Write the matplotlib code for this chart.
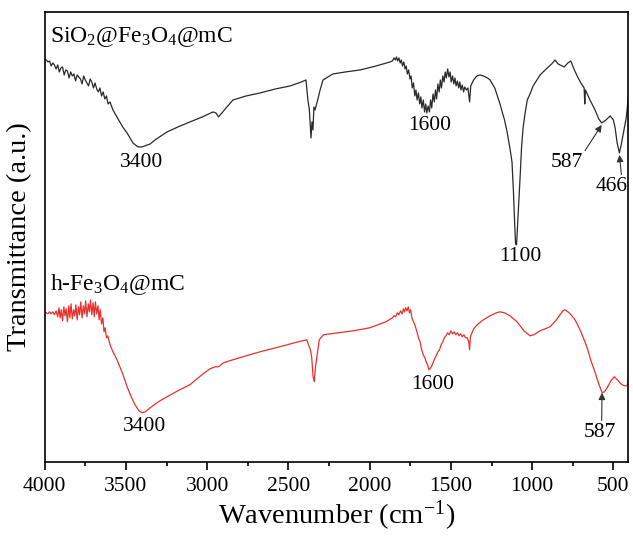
import numpy as np
import matplotlib
matplotlib.use("Agg")
import matplotlib.pyplot as plt

plt.rcParams['font.family'] = ['Liberation Serif', 'DejaVu Serif']
plt.rcParams['mathtext.fontset'] = 'custom'
plt.rcParams['mathtext.rm'] = 'Liberation Serif'
plt.rcParams['mathtext.it'] = 'Liberation Serif:italic'

# SiO2@Fe3O4@mC spectrum (arbitrary units)
black_wn = [4000, 3990, 3980, 3970, 3960, 3950, 3940, 3930, 3920, 3910, 3900, 3890, 3880, 3870,
            3860, 3850, 3840, 3830, 3820, 3810, 3800, 3790, 3780, 3770, 3760, 3750, 3740, 3730,
            3720, 3710, 3700, 3690, 3680, 3670, 3660, 3650, 3640, 3630, 3620, 3610, 3598, 3580,
            3555, 3520, 3493, 3457, 3426, 3400, 3383, 3350, 3321, 3247, 3180, 3106, 3030, 2964,
            2946, 2930, 2920, 2909, 2884, 2841, 2760, 2675, 2580, 2490, 2420, 2392, 2380, 2371,
            2361, 2355, 2349, 2343, 2336, 2320, 2305, 2287, 2226, 2150, 2059, 1960, 1875, 1860,
            1850, 1842, 1835, 1828, 1820, 1812, 1805, 1798, 1790, 1782, 1775, 1768, 1760, 1752,
            1745, 1738, 1730, 1722, 1715, 1708, 1700, 1692, 1685, 1678, 1670, 1662, 1655, 1648,
            1640, 1632, 1625, 1618, 1610, 1602, 1595, 1588, 1580, 1572, 1565, 1558, 1550, 1542,
            1535, 1528, 1520, 1512, 1505, 1498, 1490, 1482, 1475, 1468, 1460, 1452, 1445, 1438,
            1430, 1422, 1415, 1405, 1395, 1385, 1378, 1360, 1340, 1321, 1300, 1275, 1259, 1230,
            1198, 1170, 1154, 1135, 1124, 1115, 1108, 1102, 1096, 1090, 1082, 1074, 1065, 1055,
            1044, 1030, 1013, 994, 951, 920, 880, 859, 840, 803, 780, 762, 740, 720, 700, 680,
            676, 672, 644, 613, 590, 572, 545, 520, 500, 489, 477, 463, 452, 438, 421, 408]
black_t = [4.03, 4.02, 4.00, 4.01, 3.96, 3.99, 3.97, 3.93, 3.97, 3.90, 3.94, 3.95, 3.87, 3.92,
           3.91, 3.84, 3.90, 3.86, 3.88, 3.81, 3.87, 3.85, 3.83, 3.78, 3.86, 3.82, 3.79, 3.76,
           3.83, 3.80, 3.74, 3.79, 3.73, 3.70, 3.74, 3.66, 3.70, 3.63, 3.66, 3.58, 3.60, 3.52,
           3.45, 3.35, 3.29, 3.19, 3.15, 3.15, 3.16, 3.18, 3.22, 3.30, 3.35, 3.40, 3.45, 3.50,
           3.49, 3.45, 3.47, 3.49, 3.54, 3.62, 3.66, 3.69, 3.73, 3.76, 3.80, 3.82, 3.62, 3.52,
           3.24, 3.40, 3.32, 3.55, 3.52, 3.62, 3.72, 3.82, 3.88, 3.90, 3.92, 3.96, 4.00, 4.01,
           4.04, 4.02, 4.05, 4.01, 4.04, 3.99, 4.02, 3.96, 4.00, 3.93, 3.96, 3.88, 3.92, 3.83,
           3.86, 3.74, 3.79, 3.66, 3.72, 3.62, 3.69, 3.58, 3.65, 3.54, 3.62, 3.50, 3.58, 3.49,
           3.56, 3.50, 3.62, 3.54, 3.68, 3.60, 3.72, 3.63, 3.78, 3.70, 3.82, 3.74, 3.86, 3.80,
           3.90, 3.84, 3.93, 3.85, 3.90, 3.80, 3.86, 3.78, 3.84, 3.76, 3.81, 3.74, 3.80, 3.72,
           3.77, 3.70, 3.75, 3.72, 3.74, 3.60, 3.76, 3.82, 3.86, 3.87, 3.86, 3.84, 3.82, 3.74,
           3.58, 3.42, 3.30, 3.12, 3.00, 2.70, 2.40, 2.18, 2.17, 2.35, 2.60, 2.85, 3.15, 3.35,
           3.48, 3.62, 3.68, 3.76, 3.87, 3.92, 3.98, 4.02, 3.98, 3.95, 3.99, 4.01, 3.92, 3.85, 3.79, 3.74,
           3.58, 3.72, 3.62, 3.52, 3.43, 3.39, 3.42, 3.46, 3.42, 3.34, 3.19, 3.09, 3.17, 3.29, 3.44, 3.64]

# h-Fe3O4@mC spectrum
red_wn = [4000, 3990, 3980, 3970, 3960, 3950, 3940, 3930, 3920, 3912, 3905, 3898, 3890, 3882,
          3875, 3868, 3860, 3852, 3845, 3838, 3830, 3822, 3815, 3808, 3800, 3792, 3785, 3778,
          3770, 3762, 3755, 3748, 3740, 3732, 3725, 3718, 3710, 3702, 3695, 3688, 3680, 3672,
          3665, 3658, 3650, 3642, 3635, 3628, 3620, 3612, 3598, 3580, 3555, 3520, 3493, 3465,
          3444, 3420, 3401, 3380, 3350, 3300, 3247, 3180, 3106, 3040, 2983, 2950, 2933, 2921,
          2900, 2841, 2760, 2675, 2530, 2440, 2387, 2365, 2357, 2348, 2341, 2333, 2325, 2310,
          2285, 2195, 2100, 2000, 1900, 1860, 1850, 1840, 1830, 1820, 1810, 1800, 1792, 1785,
          1778, 1770, 1762, 1755, 1748, 1740, 1730, 1720, 1709, 1700, 1690, 1680, 1670, 1660,
          1650, 1642, 1635, 1629, 1620, 1610, 1600, 1590, 1580, 1570, 1560, 1550, 1540, 1530,
          1520, 1510, 1500, 1490, 1480, 1470, 1460, 1450, 1440, 1430, 1420, 1410, 1400, 1390,
          1385, 1380, 1360, 1339, 1300, 1259, 1220, 1198, 1170, 1136, 1093, 1050, 1013, 990,
          951, 890, 850, 829, 810, 797, 780, 766, 740, 723, 700, 690, 680, 661, 640, 612, 590,
          569, 555, 538, 515, 495, 475, 455, 446, 430, 415, 410]
red_t = [1.49, 1.49, 1.48, 1.50, 1.48, 1.50, 1.47, 1.51, 1.45, 1.54, 1.44, 1.52, 1.41, 1.55,
         1.46, 1.53, 1.40, 1.56, 1.44, 1.58, 1.43, 1.52, 1.46, 1.57, 1.42, 1.55, 1.47, 1.60,
         1.44, 1.56, 1.48, 1.61, 1.45, 1.58, 1.50, 1.62, 1.47, 1.59, 1.45, 1.60, 1.48, 1.56,
         1.42, 1.52, 1.38, 1.44, 1.30, 1.34, 1.24, 1.26, 1.17, 1.10, 1.02, 0.88, 0.75, 0.64,
         0.57, 0.51, 0.49, 0.50, 0.54, 0.60, 0.65, 0.71, 0.77, 0.86, 0.93, 0.95, 0.95, 0.96,
         0.99, 1.02, 1.06, 1.10, 1.16, 1.20, 1.22, 1.12, 1.05, 0.85, 0.80, 0.95, 1.05, 1.22,
         1.27, 1.29, 1.31, 1.34, 1.40, 1.44, 1.46, 1.45, 1.49, 1.47, 1.51, 1.48, 1.53, 1.50,
         1.54, 1.51, 1.55, 1.49, 1.52, 1.44, 1.40, 1.36, 1.30, 1.24, 1.20, 1.12, 1.07, 1.04,
         0.99, 0.96, 0.92, 0.93, 0.95, 0.99, 1.03, 1.06, 1.10, 1.12, 1.17, 1.20, 1.24, 1.26,
         1.29, 1.27, 1.31, 1.28, 1.30, 1.27, 1.29, 1.26, 1.28, 1.25, 1.27, 1.24, 1.24, 1.20,
         1.12, 1.25, 1.33, 1.37, 1.42, 1.46, 1.49, 1.50, 1.49, 1.46, 1.40, 1.31, 1.26, 1.27,
         1.31, 1.35, 1.42, 1.47, 1.51, 1.52, 1.50, 1.48, 1.43, 1.38, 1.30, 1.26, 1.22, 1.14, 1.02, 0.89, 0.78,
         0.69, 0.70, 0.74, 0.81, 0.85, 0.82, 0.78, 0.77, 0.76, 0.76, 0.82]

# peak labels: text, text position (wn, T)
black_labels = ['3400', '1600', '1100']
black_label_pos = [(3403, 2.99), (1628, 3.36), (1074, 2.05)]
red_labels = ['3400', '1600']
red_label_pos = [(3383, 0.35), (1610, 0.77)]

fig = plt.figure(figsize=(6.33, 5.36), dpi=100)
ax = fig.add_axes([0.0706, 0.1386, 0.9215, 0.839])

ax.plot(black_wn, black_t, color='#2a2a2a', lw=0.9)
ax.plot(red_wn, red_t, color='#e8302c', lw=0.9)

ax.set_xlim(4000, 410)
ax.set_ylim(0, 4.5)
ax.set_yticks([])
ax.set_xticks([4000, 3500, 3000, 2500, 2000, 1500, 1000, 500])
ax.set_xticks(np.arange(3750, 400, -500), minor=True)
ax.tick_params(axis='x', which='major', direction='out', length=6, width=1.2, labelsize=15.5, pad=5)
ax.tick_params(axis='x', which='minor', direction='out', length=3, width=1.2)
for s in ax.spines.values():
    s.set_linewidth(1.2)

ax.set_xlabel('Wavenumber (cm$^{-1}$)', fontsize=20.5, labelpad=2)
ax.set_ylabel('Transmittance (a.u.)', fontsize=20.5, labelpad=9)

ax.text(3967, 4.25, 'SiO$_2$@Fe$_3$O$_4$@mC', fontsize=17, va='center', ha='left')
ax.text(3967, 1.77, 'h-Fe$_3$O$_4$@mC', fontsize=17, va='center', ha='left')

for lab, (x, y) in zip(black_labels, black_label_pos):
    ax.text(x, y, lab, fontsize=15.5, ha='center', va='center')
for lab, (x, y) in zip(red_labels, red_label_pos):
    ax.text(x, y, lab, fontsize=15.5, ha='center', va='center')

arrow = dict(arrowstyle='-|>', color='#333333', lw=0.8, mutation_scale=10, shrinkA=0, shrinkB=0)
ax.annotate('587', xy=(572, 3.37), xytext=(785, 2.99), fontsize=15.5, ha='center', va='center',
            arrowprops=dict(arrow, relpos=(1.0, 1.0)))
ax.annotate('466', xy=(463, 3.07), xytext=(508, 2.75), fontsize=15.5, ha='center', va='center',
            arrowprops=dict(arrow, relpos=(0.8, 1.0)))
ax.annotate('587', xy=(570, 0.69), xytext=(582, 0.29), fontsize=15.5, ha='center', va='center',
            arrowprops=dict(arrow, relpos=(0.55, 1.0)))

fig.savefig('out.png', dpi=100)
